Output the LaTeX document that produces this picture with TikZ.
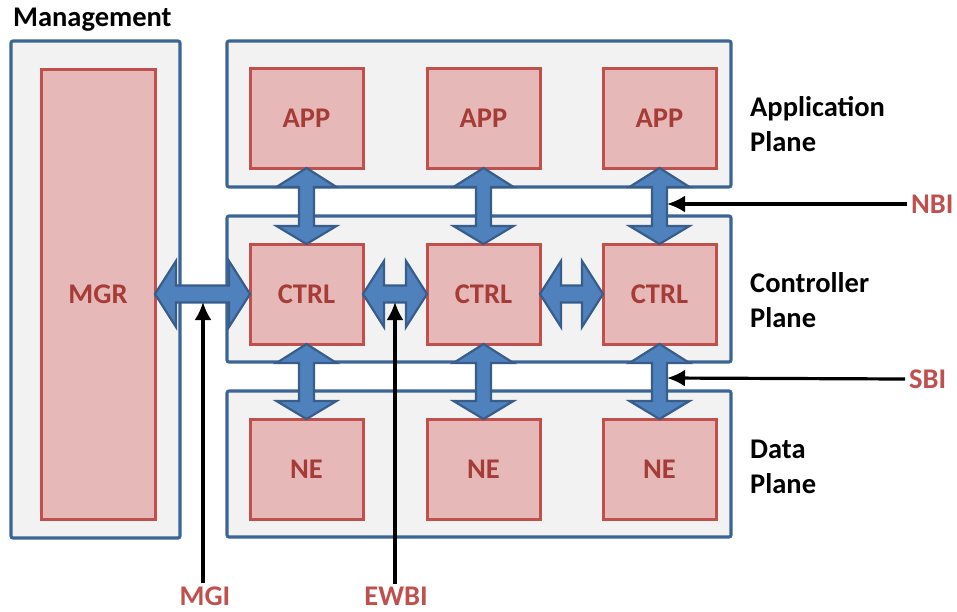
\documentclass[tikz,border=0pt]{standalone}
\usepackage{fontspec}
\setmainfont{Carlito}
\usetikzlibrary{calc,arrows.meta}
\definecolor{planefill}{HTML}{F2F2F2}
\definecolor{planeline}{HTML}{3C6594}
\definecolor{boxfill}{HTML}{E6B9B8}
\definecolor{boxline}{HTML}{C0504D}
\definecolor{boxtext}{HTML}{A63C38}
\definecolor{arrfill}{HTML}{4F81BD}
\definecolor{arrline}{HTML}{385D8A}
\definecolor{ifctext}{HTML}{C0504D}
\tikzset{
  plane/.style={draw=planeline, fill=planefill, line width=3.1pt, rounded corners=2pt,
    outer sep=0pt, inner sep=0pt},
  unit/.style={draw=boxline, fill=boxfill, line width=3pt, outer sep=0pt,
    minimum width=113pt, minimum height=100pt, text=boxtext,
    font=\fontsize{28.5}{34}\selectfont\bfseries},
  darr/.style={draw=arrline, fill=arrfill, line width=2.2pt, line join=miter},
  ifc/.style={line width=3.2pt, -{Latex[length=18pt,width=17pt]}},
  ifclabel/.style={text=ifctext, font=\fontsize{28.5}{34}\selectfont\bfseries, inner sep=0pt},
  planelabel/.style={align=left, anchor=west, inner sep=0pt,
    font=\fontsize{28.5}{35}\selectfont\bfseries}
}
% vertical double arrow between the south side of #1 and the north side of #2
\newcommand\vdarr[2]{%
  \draw[darr] (#1.south) -- ($(#1.south)+(30,19)$) -- ($(#1.south)+(7.5,19)$)
    -- ($(#2.north)+(7.5,-18)$) -- ($(#2.north)+(30,-18)$) -- (#2.north)
    -- ($(#2.north)+(-30,-18)$) -- ($(#2.north)+(-7.5,-18)$)
    -- ($(#1.south)+(-7.5,19)$) -- ($(#1.south)+(-30,19)$) -- cycle;}
% horizontal double arrow between the east side of #1 and the west side of #2
\newcommand\hdarr[2]{%
  \draw[darr] (#1.east) -- ($(#1.east)+(21,-33)$) -- ($(#1.east)+(21,-8.5)$)
    -- ($(#2.west)+(-21,-8.5)$) -- ($(#2.west)+(-21,-33)$) -- (#2.west)
    -- ($(#2.west)+(-21,33)$) -- ($(#2.west)+(-21,8.5)$)
    -- ($(#1.east)+(21,8.5)$) -- ($(#1.east)+(21,33)$) -- cycle;}
\begin{document}
\begin{tikzpicture}[x=1pt, y=-1pt]
  \useasboundingbox (0,0) rectangle (957,611);

  % management column
  \node[anchor=west, inner sep=0pt, font=\fontsize{28.5}{34}\selectfont\bfseries] (mgmtlabel) at (13,20) {Management};
  \node[plane, minimum width=169pt, minimum height=497pt] (mgmt) at (95.5,289.5) {};
  \node[unit, minimum width=114pt, minimum height=450pt] (mgr) at (98,294) {MGR};

  % planes
  \node[plane, minimum width=504pt, minimum height=146pt] (appplane) at (479,114) {};
  \node[plane, minimum width=504pt, minimum height=146pt] (ctrlplane) at (479,289) {};
  \node[plane, minimum width=504pt, minimum height=146pt] (dataplane) at (479,464) {};

  \node[planelabel] (applabel) at (750,124.5) {Application\\Plane};
  \node[planelabel] (ctrllabel) at (750,300) {Controller\\Plane};
  \node[planelabel] (datalabel) at (750,466.5) {Data\\Plane};

  % application, controller and network element units
  \foreach \i/\x in {1/306.5, 2/483.5, 3/659.5} {
    \node[unit] (app\i) at (\x,118) {APP};
    \node[unit] (ctrl\i) at (\x,294) {CTRL};
    \node[unit] (ne\i) at (\x,469) {NE};
  }

  % interfaces between the units
  \foreach \i in {1,2,3} {
    \vdarr{app\i}{ctrl\i}
    \vdarr{ctrl\i}{ne\i}
  }
  \hdarr{mgr}{ctrl1}
  \hdarr{ctrl1}{ctrl2}
  \hdarr{ctrl2}{ctrl3}

  % interface labels and pointers
  \node[ifclabel, anchor=west] (nbi) at (911,204) {NBI};
  \node[ifclabel, anchor=west] (sbi) at (909,379) {SBI};
  \node[ifclabel] (mgi) at (205,596) {MGI};
  \node[ifclabel] (ewbi) at (396,596) {EWBI};

  \coordinate (nbitip) at (667,204);
  \coordinate (sbitip) at (667,378);
  \coordinate (mgitip) at (203,302);
  \coordinate (ewbitip) at (395,302);

  \draw[ifc] ([xshift=-4pt]nbi.west) -- (nbitip);
  \draw[ifc] ([xshift=-4pt]sbi.west) -- (sbitip);
  \draw[ifc] ([xshift=-2pt,yshift=3pt]mgi.north) -- (mgitip);
  \draw[ifc] ([xshift=-1pt,yshift=3pt]ewbi.north) -- (ewbitip);
\end{tikzpicture}
\end{document}
